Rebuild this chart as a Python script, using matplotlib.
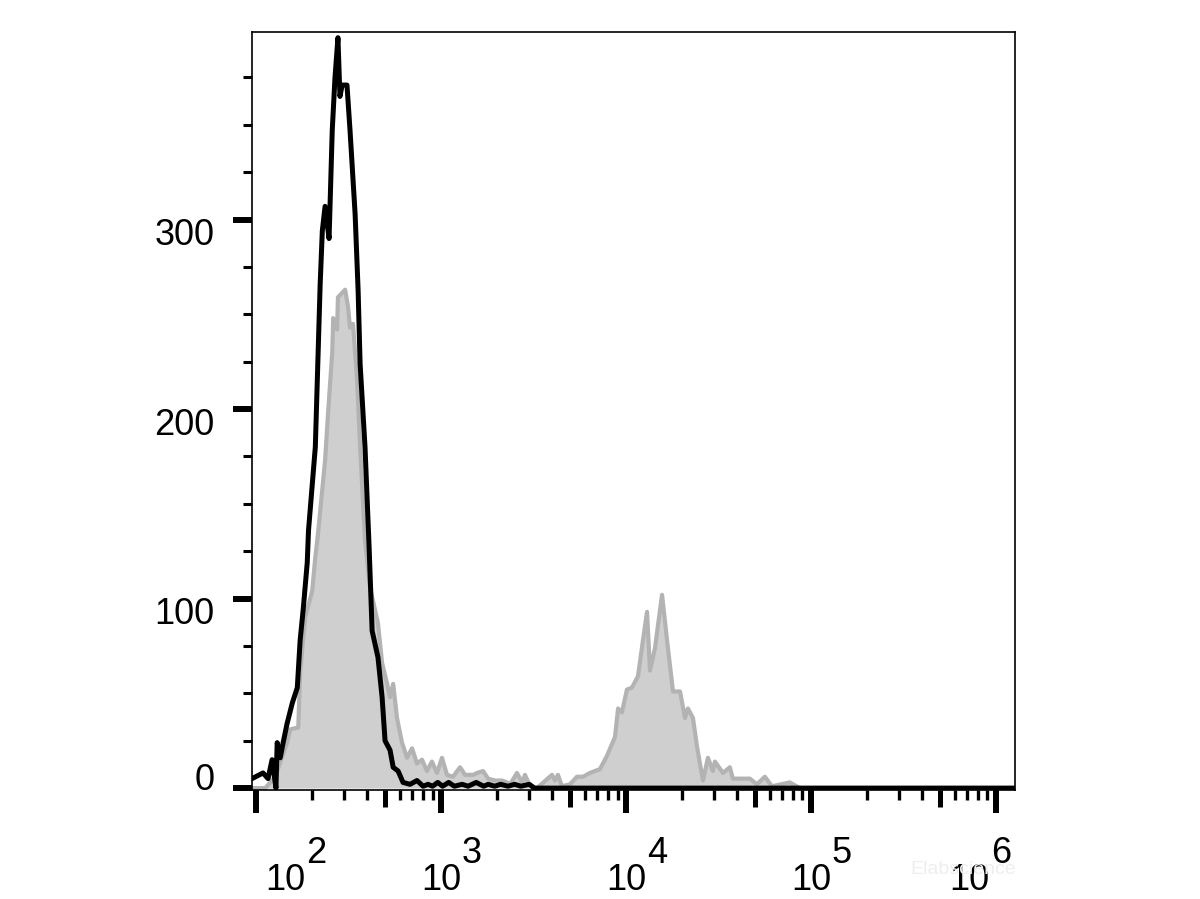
import matplotlib
matplotlib.use('Agg')
import matplotlib.pyplot as plt
import matplotlib.transforms as mtransforms
from matplotlib.ticker import LogLocator, MultipleLocator, NullFormatter

plt.rcParams['font.family'] = ['Liberation Sans', 'DejaVu Sans']

# Control (black outline) histogram: fluorescence value -> count
black_x = [95, 109, 116, 122, 128, 130, 135, 140, 147, 157, 167, 173, 180, 189, 192,
           209, 222, 228, 236, 248, 258, 267, 277, 284, 292, 310, 322, 343, 356, 365,
           388, 408, 424, 456, 480, 498, 530, 551, 586, 623, 680, 741, 800, 851, 900,
           960, 1020, 1100, 1180, 1300, 1400, 1550, 1700, 1800, 1950, 2100, 2300, 2500,
           2700, 3000, 3200, 1270000]
black_y = [5, 8, 5, 15, 0, 24, 16, 24, 34, 45, 53, 78, 95, 119, 136,
           180, 266, 294, 307, 290, 347, 375, 396, 365, 371, 371, 347, 303, 263, 224,
           180, 128, 83, 69, 48, 25, 20, 11, 9, 3, 2, 4, 1, 2, 1,
           3, 1, 3, 1, 2, 1, 3, 1, 2, 1, 2, 1, 2,
           1, 2, 0, 0]

# Stained sample (filled grey) histogram
gray_x = [95, 112, 127, 147, 153, 169, 173, 184, 201, 209, 216, 236, 245, 258, 261,
          274, 277, 303, 314, 322, 334, 352, 365, 388, 413, 456, 480, 511, 530, 551,
          578, 615, 655, 697, 741, 789, 839, 893, 951, 1012, 1077, 1161, 1267, 1349, 1490,
          1567, 1688, 1796, 1959, 2137, 2275, 2361, 2575, 2740, 2845, 3027, 3303, 3981, 4131, 4286,
          4507, 4977, 5433, 5856, 6383, 7229, 7889, 8724, 9065, 9511, 10120, 10770, 11610, 12360, 13000,
          13490, 14360, 15670, 16680, 17960, 19600, 20860, 21640, 23030, 24210, 26080, 27750, 29530, 30280, 33440,
          36470, 37850, 41300, 46790, 51060, 56390, 61540, 76900, 87300, 1270000]
gray_y = [0, 0, 6, 24, 31, 32, 61, 90, 104, 122, 134, 173, 198, 230, 248,
          242, 259, 263, 254, 243, 245, 215, 180, 131, 106, 87, 66, 55, 48, 55,
          37, 24, 16, 21, 13, 15, 9, 14, 8, 16, 7, 6, 11, 7, 7,
          8, 9, 5, 4, 4, 3, 2, 8, 3, 7, 1, 0, 7, 4, 7,
          1, 2, 6, 6, 8, 10, 17, 27, 42, 40, 52, 53, 59, 78, 93,
          62, 74, 102, 78, 51, 51, 37, 42, 37, 22, 4, 16, 9, 14, 8,
          11, 5, 5, 5, 2, 6, 1, 3, 0, 0]

decades = [1e2, 1e3, 1e4, 1e5, 1e6]
exponents = ['2', '3', '4', '5', '6']
half_decades = [5e2, 5e3, 5e4, 5e5]
y_ticks = [0, 100, 200, 300]

fig, ax = plt.subplots(figsize=(12, 8.99), dpi=100)
fig.subplots_adjust(left=252/1200, right=1015/1200, bottom=1-790/899, top=1-32/899)

# Histograms
ax.fill_between(gray_x, gray_y, 0, color='#cfcfcf', lw=0, zorder=1)
ax.plot(gray_x, gray_y, color='#b3b3b3', lw=3.0, zorder=2)
ax.plot(black_x, black_y, color='black', lw=3.6, zorder=3)

ax.set_xscale('log')
ax.set_xlim(95, 1.27e6)
ax.set_ylim(-1, 399)

for sp in ax.spines.values():
    sp.set_linewidth(1.2)

# x axis ticks
ax.set_xticks(decades)
ax.set_xticklabels(['10'] * len(decades))
ax.xaxis.set_minor_locator(LogLocator(base=10, subs=[2, 3, 4, 6, 7, 8, 9], numticks=20))
ax.xaxis.set_minor_formatter(NullFormatter())
ax.tick_params(axis='x', which='major', direction='out', length=16.5, width=4.3,
               labelsize=26, pad=36)
ax.tick_params(axis='x', which='minor', direction='out', length=7, width=2.4)

# medium ticks at 5 x 10^n
sec = ax.secondary_xaxis('bottom')
sec.set_xticks(half_decades)
sec.set_xticklabels([])
sec.minorticks_off()
sec.tick_params(axis='x', length=12, width=3.6, direction='out')
sec.spines['bottom'].set_visible(False)

# y axis ticks
ax.set_yticks(y_ticks)
ax.yaxis.set_minor_locator(MultipleLocator(25))
ax.tick_params(axis='y', which='major', direction='out', length=14, width=4.3,
               labelsize=26, pad=13)
ax.tick_params(axis='y', which='minor', direction='out', length=6.5, width=2.2)

# nudge labels like the original export
label_shift = {0: 29, len(decades) - 1: -26}
for i, lab in enumerate(ax.get_xticklabels()):
    dx = label_shift.get(i, 0)
    lab.set_transform(lab.get_transform() + mtransforms.ScaledTranslation(dx / 100, 0, fig.dpi_scale_trans))
for i, lab in enumerate(ax.get_yticklabels()):
    dy = 12 if i == 0 else -12
    lab.set_transform(lab.get_transform() + mtransforms.ScaledTranslation(0, dy / 100, fig.dpi_scale_trans))

# exponents drawn next to the "10" labels
for i, (v, e) in enumerate(zip(decades, exponents)):
    dx = 21 + label_shift.get(i, 0)
    ax.annotate(e, xy=(v, 0), xycoords=('data', 'axes fraction'), xytext=(dx, -46),
                textcoords='offset pixels', ha='left', va='top', fontsize=26,
                annotation_clip=False)

# faint watermark
fig.text(910/1200, 1-874/899, 'Elabscience', fontsize=14, color='#eeeeee', zorder=0)

plt.savefig('out.png', dpi=100)
